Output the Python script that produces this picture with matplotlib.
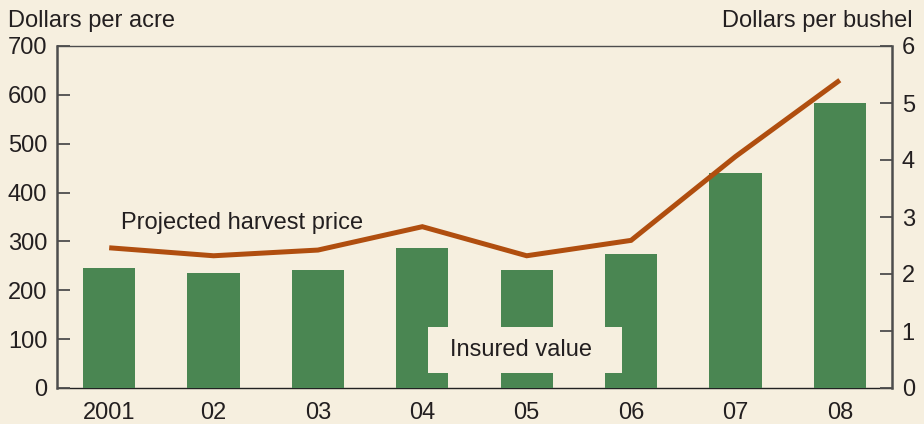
import matplotlib
matplotlib.use("Agg")
import matplotlib.pyplot as plt
from matplotlib.patches import Rectangle

years = ["2001", "02", "03", "04", "05", "06", "07", "08"]
insured_value = [246, 235, 241, 287, 241, 274, 440, 583]
projected_price = [2.46, 2.32, 2.42, 2.83, 2.32, 2.59, 4.06, 5.40]
left_ticks = [0, 100, 200, 300, 400, 500, 600, 700]
right_ticks = [0, 1, 2, 3, 4, 5, 6]

BG = "#F6EFDF"
GREEN = "#4A8652"
ORANGE = "#B04E0F"
TXT = "#231F20"
SPINE = "#4D4D4D"

plt.rcParams["font.family"] = ["Liberation Sans", "DejaVu Sans"]
plt.rcParams["font.size"] = 17

fig = plt.figure(figsize=(9.24, 4.24), dpi=100, facecolor=BG)
ax = fig.add_axes([57/924, 36/424, (892-57)/924, (388-46)/424])
ax.set_facecolor(BG)

x = list(range(len(years)))
ax.bar(x, insured_value, width=0.5, color=GREEN, zorder=3)
ax.set_xlim(-0.5, len(years) - 0.5)
ax.set_ylim(0, 700)
ax.set_yticks(left_ticks)
ax.set_xticks(x)
ax.set_xticklabels(years)
ax.tick_params(axis="y", direction="in", length=9, width=1.3, color=SPINE,
               pad=7, labelcolor=TXT, labelsize=17)
ax.tick_params(axis="x", length=0, pad=10, labelcolor=TXT, labelsize=17)
ax.spines["left"].set_color(SPINE)
ax.spines["left"].set_linewidth(1.8)
ax.spines["top"].set_color(SPINE)
ax.spines["top"].set_linewidth(1.0)
ax.spines["bottom"].set_color("#222222")
ax.spines["bottom"].set_linewidth(1.0)
ax.spines["bottom"].set_zorder(1)
ax.spines["right"].set_visible(False)

# label box for insured value
ax.add_patch(Rectangle((3.054, 30.7), 4.912 - 3.054, 124.9 - 30.7,
                       facecolor=BG, edgecolor="none", zorder=4))
ax.text(3.944, 77.8, "Insured value", ha="center", va="center",
        color=TXT, fontsize=17, zorder=5)
ax.text(0.113, 326, "Projected harvest price", ha="left", va="baseline",
        color=TXT, fontsize=17, zorder=5)

ax2 = ax.twinx()
ax2.plot(x, projected_price, color=ORANGE, linewidth=3.6, solid_capstyle="butt",
         solid_joinstyle="miter")
ax2.set_ylim(0, 6)
ax2.set_yticks(right_ticks)
ax2.tick_params(axis="y", direction="in", length=9, width=1.3, color=SPINE,
                pad=7, labelcolor=TXT, labelsize=17)
ax2.spines["right"].set_color(SPINE)
ax2.spines["right"].set_linewidth(1.8)
for s in ["left", "top", "bottom"]:
    ax2.spines[s].set_visible(False)
ax2.patch.set_visible(False)

fig.text(8/924, 1 - 27/424, "Dollars per acre", ha="left", va="baseline",
         color=TXT, fontsize=17)
fig.text(913/924, 1 - 27/424, "Dollars per bushel", ha="right", va="baseline",
         color=TXT, fontsize=17)

fig.savefig("out.png", dpi=100, facecolor=BG)
